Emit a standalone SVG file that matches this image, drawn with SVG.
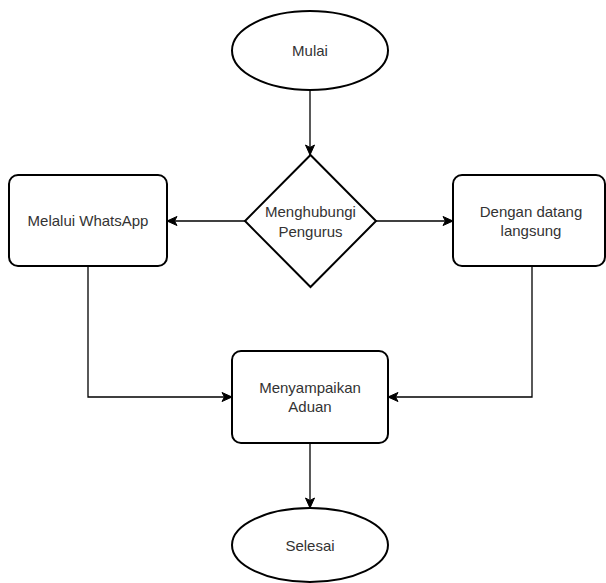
<svg xmlns="http://www.w3.org/2000/svg" width="606" height="583" viewBox="0 0 606 583">
<defs>
<style>
.shape{fill:#fff;stroke:#000;stroke-width:2}
.edge{fill:none;stroke:#000;stroke-width:1.3}
text{font-family:"Liberation Sans",Arial,sans-serif;font-size:15px;fill:#333;text-anchor:middle;dominant-baseline:central}
</style>
<marker id="arr" markerUnits="userSpaceOnUse" markerWidth="12" markerHeight="12" viewBox="0 0 12 12" refX="11" refY="6" orient="auto">
<path d="M1,1.5 L11,6 L1,10.5 L3.5,6 Z" fill="#000" stroke="#000" stroke-width="1"/>
</marker>
</defs>
<rect width="606" height="583" fill="#fff"/>
<g id="connectors">
<path class="edge" d="M310,90 V155" marker-end="url(#arr)"/>
<path class="edge" d="M245,221 H167" marker-end="url(#arr)"/>
<path class="edge" d="M376,221 H453" marker-end="url(#arr)"/>
<path class="edge" d="M88,266 V397 H232" marker-end="url(#arr)"/>
<path class="edge" d="M532,266 V397 H388" marker-end="url(#arr)"/>
<path class="edge" d="M310,443 V508" marker-end="url(#arr)"/>
</g>
<g id="mulai">
<ellipse class="shape" cx="310" cy="50.5" rx="78" ry="39.5"/>
<text x="310" y="50.5">Mulai</text>
</g>
<g id="menghubungi">
<polygon class="shape" points="310.5,155 376,221 310.5,287 245,221"/>
<text x="310.5" y="211.5">Menghubungi</text>
<text x="310.5" y="231">Pengurus</text>
</g>
<g id="whatsapp">
<rect class="shape" x="9" y="175" width="158" height="91" rx="9"/>
<text x="88" y="220.5">Melalui WhatsApp</text>
</g>
<g id="datang">
<rect class="shape" x="453" y="175" width="152" height="91" rx="9"/>
<text x="531" y="211.5">Dengan datang</text>
<text x="531" y="230.5">langsung</text>
</g>
<g id="aduan">
<rect class="shape" x="232" y="351" width="156" height="92" rx="9"/>
<text x="310" y="387">Menyampaikan</text>
<text x="310" y="406.5">Aduan</text>
</g>
<g id="selesai">
<ellipse class="shape" cx="310" cy="545" rx="78" ry="37"/>
<text x="310" y="545">Selesai</text>
</g>
</svg>
